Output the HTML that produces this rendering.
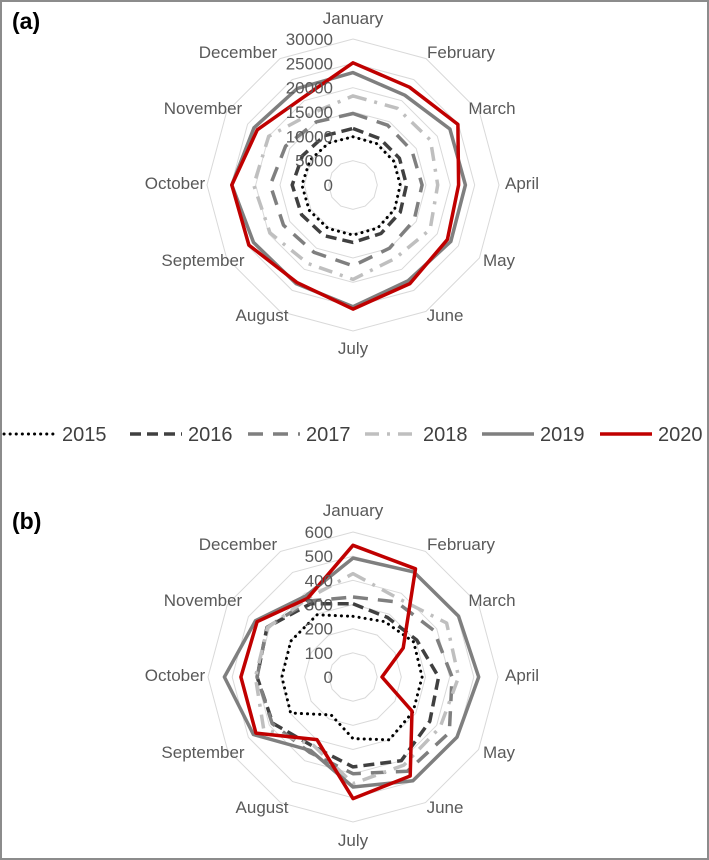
<!DOCTYPE html>
<html><head><meta charset="utf-8"><style>
html,body{margin:0;padding:0;background:#fff;}
svg{display:block;font-family:"Liberation Sans",sans-serif;}
</style></head><body>
<svg id="chart" width="709" height="860" viewBox="0 0 709 860" xmlns="http://www.w3.org/2000/svg">
<rect x="1" y="1" width="707" height="858" fill="#fff" stroke="#8c8c8c" stroke-width="2"/>
<text x="12" y="29" font-size="23" font-weight="bold" fill="#000">(a)</text>
<text x="12" y="529" font-size="23" font-weight="bold" fill="#000">(b)</text>
<g id="ga"></g>
<g id="gb"></g>
<g id="legend"></g>
</svg>
<script>
const months = ["January","February","March","April","May","June","July","August","September","October","November","December"];
const seriesNames = ["2015","2016","2017","2018","2019","2020"];
const ticksA = [0,5000,10000,15000,20000,25000,30000];
const ticksB = [0,100,200,300,400,500,600];
const a2015 = [9900,9800,9700,9700,9900,10200,10300,10300,10400,10500,10200,10000];
const a2016 = [11600,11000,11000,11000,11200,11500,11800,12000,12200,12500,12000,11700];
const a2017 = [14700,14200,14000,14200,14500,15000,16600,16000,16500,17000,16000,15000];
const a2018 = [18300,18200,18400,17400,18300,17400,19400,18600,19700,20400,20000,17000];
const a2019 = [23100,21300,23000,23100,23200,22700,25000,23400,23600,24900,23500,22900];
const a2020 = [25100,23200,24900,21700,22400,23400,25500,23100,24700,24900,22700,20700];
const b2015 = [251,264,290,286,287,300,255,181,298,294,297,297];
const b2016 = [303,285,305,354,367,400,372,331,383,397,411,350];
const b2017 = [331,359,386,410,460,450,400,360,386,397,411,363];
const b2018 = [428,375,447,437,416,421,441,327,427,404,408,375];
const b2019 = [492,502,504,520,497,496,455,351,476,532,466,388];
const b2020 = [545,517,240,120,282,473,503,299,464,464,458,376];

const labelOff = [[0,-167],[108,-133],[139,-77],[169,-2],[146,75],[92,130],[0,163],[-91,130],[-150,75],[-178,-2],[-150,-77],[-115,-133]];
const styles = [
 {c:"#000000",w:3,d:"0.1 6",cap:"round"},
 {c:"#404040",w:3.5,d:"11 6",cap:"butt"},
 {c:"#7f7f7f",w:3.5,d:"15 10",cap:"butt"},
 {c:"#bfbfbf",w:3.5,d:"14 8 3 8",cap:"butt"},
 {c:"#7f7f7f",w:3.5,d:"",cap:"butt"},
 {c:"#c00000",w:3.5,d:"",cap:"butt"}
];
const NS="http://www.w3.org/2000/svg";
function mk(tag,attrs,parent){const e=document.createElementNS(NS,tag);for(const k in attrs)e.setAttribute(k,attrs[k]);parent.appendChild(e);return e;}

function radar(g,cx,cy,R,ticks,data,tag){
  const max=ticks[ticks.length-1];
  const rs=v=>v/max*R;
  const pt=(i,r)=>{const a=i*Math.PI/6;return [cx+r*Math.sin(a),cy-r*Math.cos(a)];};
  for(let t=1;t<ticks.length;t++){
    const r=rs(ticks[t]);
    const p=months.map((m,i)=>pt(i,r).map(v=>v.toFixed(1)).join(",")).join(" ");
    const ring=mk("polygon",{points:p,fill:"none",stroke:"#d9d9d9","stroke-width":1},g);
    
    
  }
  months.forEach((m,i)=>{
    const t=mk("text",{x:cx+labelOff[i][0],y:cy+labelOff[i][1]+6,"text-anchor":"middle","font-size":17,fill:"#595959"},g);
    t.textContent=m;
    
    
  });
  data.forEach((vals,s)=>{
    const p=vals.map((v,i)=>pt(i,rs(v)).map(q=>q.toFixed(1)).join(",")).join(" ");
    const st=styles[s];
    const attrs={points:p,fill:"none",stroke:st.c,"stroke-width":st.w,"stroke-linecap":st.cap,"stroke-linejoin":"round"};
    if(st.d)attrs["stroke-dasharray"]=st.d;
    const pl=mk("polygon",attrs,g);
    
    
  });
  ticks.forEach(v=>{
    const t=mk("text",{x:cx-20,y:cy-rs(v)+6,"text-anchor":"end","font-size":17,fill:"#595959"},g);
    t.textContent=String(v);
    
    
  });
}
radar(document.getElementById("ga"),353,185,146,ticksA,[a2015,a2016,a2017,a2018,a2019,a2020],"a");
radar(document.getElementById("gb"),353,677,145,ticksB,[b2015,b2016,b2017,b2018,b2019,b2020],"b");

const lg=document.getElementById("legend");
const lineX=[4,130,248,365,482,600];
seriesNames.forEach((n,s)=>{
  const st=styles[s];
  const attrs={x1:lineX[s],y1:434,x2:lineX[s]+52,y2:434,stroke:st.c,"stroke-width":st.w,"stroke-linecap":st.cap};
  if(st.d)attrs["stroke-dasharray"]=st.d;
  const l=mk("line",attrs,lg);
  
  
  const t=mk("text",{x:lineX[s]+58,y:441,"font-size":20,fill:"#404040"},lg);
  t.textContent=n;
  
  
});
</script>
</body></html>
